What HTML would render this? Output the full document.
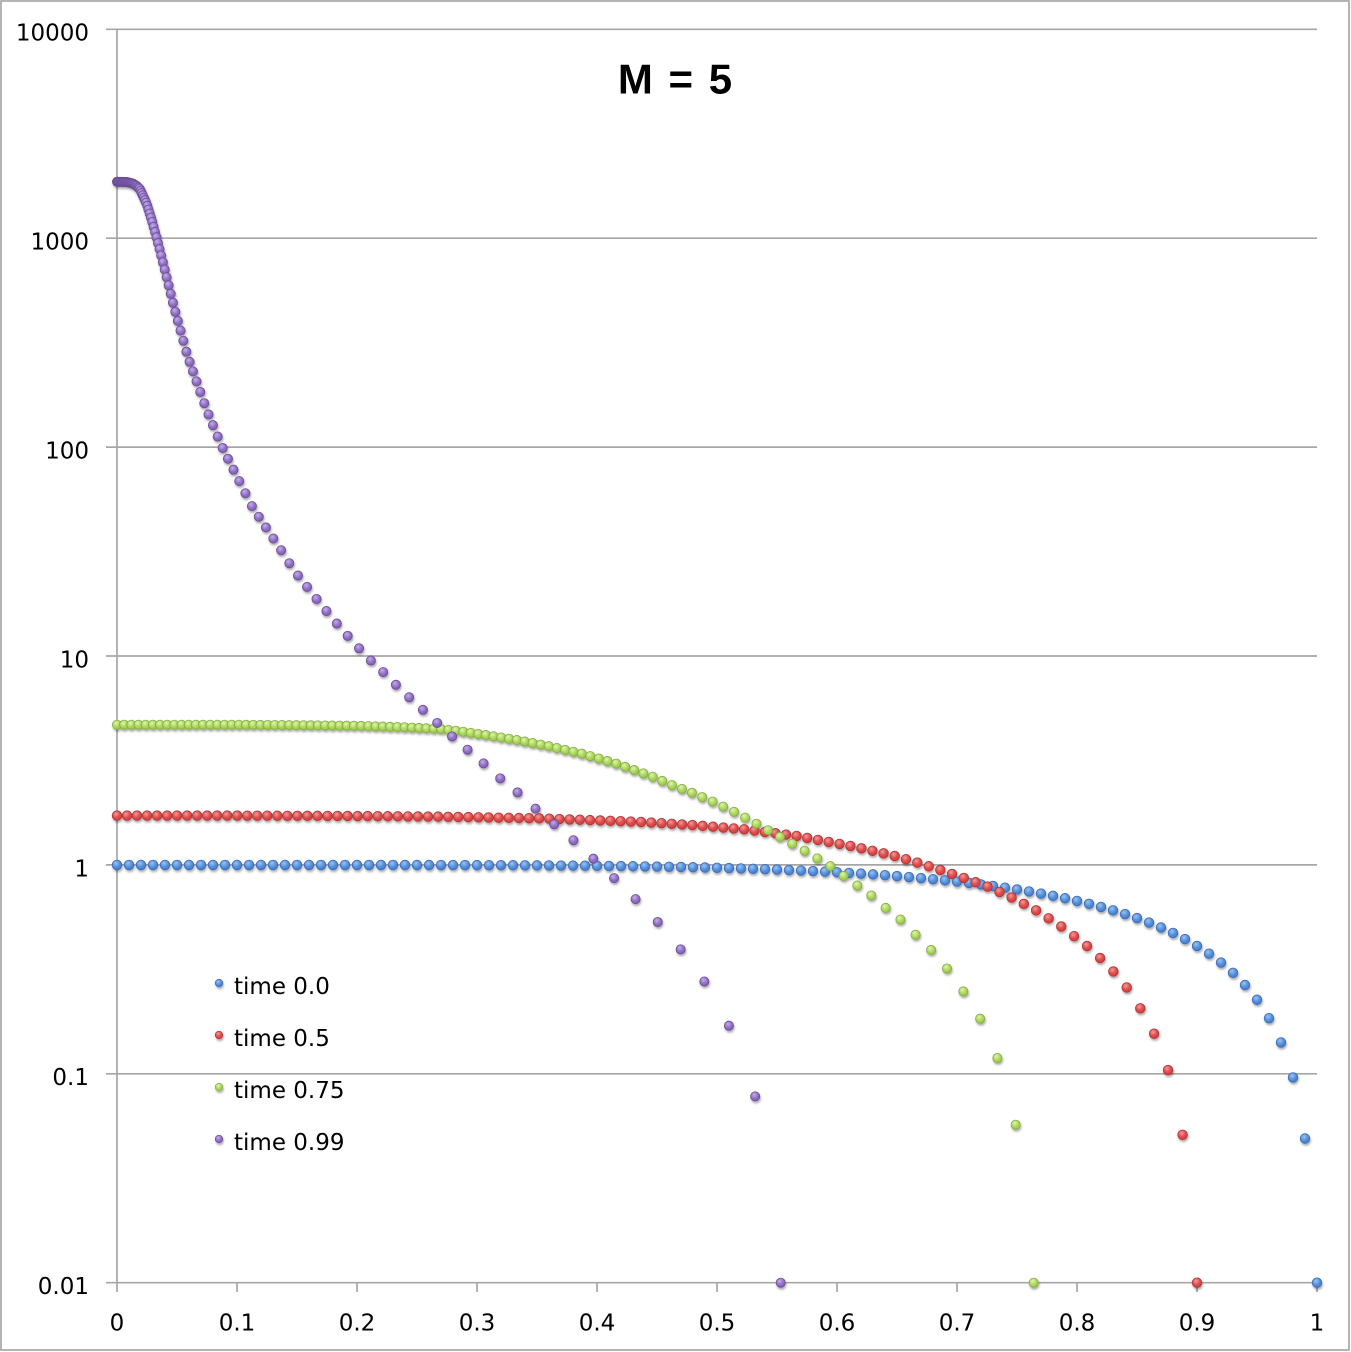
<!DOCTYPE html>
<html>
<head>
<meta charset="utf-8">
<style>
  html, body { margin: 0; padding: 0; background: #ffffff; }
  body { width: 1351px; height: 1352px; overflow: hidden; }
  svg { display: block; }
  .tl { font-family: "DejaVu Sans", "Liberation Sans", sans-serif; font-size: 23px; fill: #000; }
</style>
</head>
<body>
<svg id="chart" xmlns="http://www.w3.org/2000/svg" width="1351" height="1352" viewBox="0 0 1351 1352">
  <defs>
    <radialGradient id="gBlue" cx="0.4" cy="0.33" r="0.7">
      <stop offset="0" stop-color="#9cc3f2"/>
      <stop offset="0.55" stop-color="#5790dc"/>
      <stop offset="1" stop-color="#4078cc"/>
    </radialGradient>
    <radialGradient id="gRed" cx="0.4" cy="0.33" r="0.7">
      <stop offset="0" stop-color="#f49a9a"/>
      <stop offset="0.55" stop-color="#e04d4d"/>
      <stop offset="1" stop-color="#cc3b3b"/>
    </radialGradient>
    <radialGradient id="gGreen" cx="0.4" cy="0.33" r="0.7">
      <stop offset="0" stop-color="#def5b0"/>
      <stop offset="0.55" stop-color="#aed85f"/>
      <stop offset="1" stop-color="#96c44a"/>
    </radialGradient>
    <radialGradient id="gPurple" cx="0.4" cy="0.33" r="0.7">
      <stop offset="0" stop-color="#c5adea"/>
      <stop offset="0.55" stop-color="#9172c4"/>
      <stop offset="1" stop-color="#7c5cb2"/>
    </radialGradient>
    <filter id="sh" x="-20%" y="-20%" width="140%" height="140%">
      <feDropShadow dx="0.8" dy="2" stdDeviation="1.1" flood-color="#000" flood-opacity="0.33"/>
    </filter>
  </defs>

  <!-- outer border -->
  <rect x="1" y="1" width="1348" height="1349" fill="#ffffff" stroke="#a2a2a2" stroke-width="1.6"/>

  <!-- gridlines -->
  <g stroke="#a6a6a6" stroke-width="1.7" fill="none">
    <line x1="106" y1="29.3" x2="1317" y2="29.3"/>
    <line x1="106" y1="238.2" x2="1317" y2="238.2"/>
    <line x1="106" y1="447.1" x2="1317" y2="447.1"/>
    <line x1="106" y1="656" x2="1317" y2="656"/>
    <line x1="106" y1="864.9" x2="1317" y2="864.9"/>
    <line x1="106" y1="1073.8" x2="1317" y2="1073.8"/>
    <line x1="106" y1="1282.7" x2="1317" y2="1282.7"/>
    <line x1="117" y1="29.3" x2="117" y2="1292"/>
    <line x1="237" y1="1282.7" x2="237" y2="1292"/>
    <line x1="357" y1="1282.7" x2="357" y2="1292"/>
    <line x1="477" y1="1282.7" x2="477" y2="1292"/>
    <line x1="597" y1="1282.7" x2="597" y2="1292"/>
    <line x1="717" y1="1282.7" x2="717" y2="1292"/>
    <line x1="837" y1="1282.7" x2="837" y2="1292"/>
    <line x1="957" y1="1282.7" x2="957" y2="1292"/>
    <line x1="1077" y1="1282.7" x2="1077" y2="1292"/>
    <line x1="1197" y1="1282.7" x2="1197" y2="1292"/>
    <line x1="1317" y1="1282.7" x2="1317" y2="1292"/>
  </g>

  <!-- y tick labels -->
  <g class="tl" text-anchor="end">
    <text x="89" y="40.7">10000</text>
    <text x="89" y="249.6">1000</text>
    <text x="89" y="458.5">100</text>
    <text x="89" y="667.4">10</text>
    <text x="89" y="876.3">1</text>
    <text x="89" y="1085.2">0.1</text>
    <text x="89" y="1294.1">0.01</text>
  </g>

  <!-- x tick labels -->
  <g class="tl" text-anchor="middle">
    <text x="117" y="1330.7">0</text>
    <text x="237" y="1330.7">0.1</text>
    <text x="357" y="1330.7">0.2</text>
    <text x="477" y="1330.7">0.3</text>
    <text x="597" y="1330.7">0.4</text>
    <text x="717" y="1330.7">0.5</text>
    <text x="837" y="1330.7">0.6</text>
    <text x="957" y="1330.7">0.7</text>
    <text x="1077" y="1330.7">0.8</text>
    <text x="1197" y="1330.7">0.9</text>
    <text x="1317" y="1330.7">1</text>
  </g>

  <!-- title -->
  <text x="675" y="93.5" text-anchor="middle" style="font-family:'Liberation Sans','DejaVu Sans',sans-serif;font-weight:bold;font-size:42px;word-spacing:4px;fill:#000;">M = 5</text>

  <!-- series -->
  <g id="series" filter="url(#sh)"></g>

  <!-- legend -->
  <g filter="url(#sh)">
    <circle cx="219" cy="983" r="3.8" fill="url(#gBlue)" stroke="#3a6db5" stroke-width="0.7"/>
    <circle cx="219" cy="1035" r="3.8" fill="url(#gRed)" stroke="#b03434" stroke-width="0.7"/>
    <circle cx="219" cy="1087" r="3.8" fill="url(#gGreen)" stroke="#84ac3e" stroke-width="0.7"/>
    <circle cx="219" cy="1139" r="3.8" fill="url(#gPurple)" stroke="#6a4d98" stroke-width="0.7"/>
  </g>
  <g class="tl">
    <text x="234" y="994">time 0.0</text>
    <text x="234" y="1046">time 0.5</text>
    <text x="234" y="1098">time 0.75</text>
    <text x="234" y="1150">time 0.99</text>
  </g>
</svg>

<script>
(function(){
  var NS = "http://www.w3.org/2000/svg";
  var X0 = 117, XW = 1200, Y0 = 1282.7, DEC = 208.9;
  function px(x){ return X0 + x * XW; }
  function py(v){ if (!(v > 0.01)) return Y0; return Y0 - (Math.log(v)/Math.LN10 + 2) * DEC; }

  function makeU(tab, s){
    var last = tab[tab.length-1];
    var uL = Math.pow(10, last[1]);
    return function(x){
      if (x >= s) return 0;
      if (x >= last[0]) return uL * (s - x) / (s - last[0]);
      for (var k = 1; k < tab.length; k++){
        if (x <= tab[k][0]){
          var a = tab[k-1], b = tab[k];
          var t = (x - a[0]) / (b[0] - a[0]);
          return Math.pow(10, a[1] + t * (b[1] - a[1]));
        }
      }
      return uL;
    };
  }

  function mesh(u, s){
    var N = 40000;
    var C = new Float64Array(N + 1);
    var h = s / N;
    for (var k = 1; k <= N; k++){
      var xm = (k - 0.5) * h;
      C[k] = C[k-1] + u(xm) * xm * xm * h;
    }
    var tot = C[N];
    var pts = [];
    for (var i = 0; i <= 100; i++){
      var xi = i / 100;
      var f = (Math.pow(xi,3)/3 - Math.pow(xi,8)/8) / (5/24);
      if (i === 100) { pts.push([s, 0]); continue; }
      var target = f * tot;
      var lo = 0, hi = N;
      while (hi - lo > 1){
        var mid = (lo + hi) >> 1;
        if (C[mid] < target) lo = mid; else hi = mid;
      }
      var d = C[hi] - C[lo];
      var t = d > 0 ? (target - C[lo]) / d : 0;
      var x = (lo + t) * h;
      pts.push([x, u(x)]);
    }
    return pts;
  }

  var purpleTab = [[0,3.270],[0.008,3.269],[0.013,3.262],[0.016,3.252],[0.019,3.236],[0.0247,3.165],[0.029,3.086],[0.0331,3.0],[0.0372,2.909],[0.0475,2.671],[0.0589,2.434],[0.0747,2.178],[0.0864,2.016],[0.0908,1.963],[0.113,1.711],[0.1358,1.515],[0.1422,1.456],[0.1489,1.399],[0.157,1.341],[0.1647,1.284],[0.173,1.226],[0.1814,1.167],[0.1906,1.107],[0.1997,1.049],[0.2094,0.990],[0.2206,0.930],[0.2306,0.872],[0.2422,0.809],[0.2539,0.748],[0.2656,0.686],[0.278,0.621],[0.2914,0.555],[0.3047,0.490],[0.319,0.416],[0.333,0.351],[0.348,0.273],[0.364,0.196],[0.380,0.120],[0.396,0.035],[0.414,-0.062],[0.432,-0.163],[0.4506,-0.273],[0.4694,-0.402],[0.4897,-0.560],[0.5097,-0.766],[0.5314,-1.10]];
  var greenTab = [[0,0.671],[0.1,0.671],[0.15,0.669],[0.2,0.666],[0.24,0.659],[0.269,0.651],[0.2817,0.643],[0.307,0.622],[0.333,0.598],[0.3594,0.569],[0.387,0.533],[0.416,0.485],[0.446,0.423],[0.462,0.383],[0.479,0.346],[0.4964,0.303],[0.514,0.255],[0.532,0.200],[0.5525,0.134],[0.573,0.068],[0.584,0.030],[0.595,-0.008],[0.6056,-0.053],[0.617,-0.099],[0.629,-0.148],[0.6406,-0.206],[0.653,-0.262],[0.6656,-0.335],[0.679,-0.410],[0.692,-0.498],[0.7056,-0.608],[0.7197,-0.740],[0.7339,-0.928],[0.7489,-1.244]];
  var redTab = [[0,0.236],[0.1,0.236],[0.2,0.234],[0.269,0.231],[0.351,0.223],[0.436,0.206],[0.479,0.191],[0.522,0.171],[0.566,0.139],[0.593,0.110],[0.611,0.091],[0.63,0.067],[0.648,0.043],[0.667,0.011],[0.686,-0.024],[0.705,-0.061],[0.7256,-0.104],[0.7456,-0.156],[0.7664,-0.219],[0.787,-0.295],[0.809,-0.391],[0.8197,-0.448],[0.8306,-0.512],[0.8422,-0.592],[0.853,-0.689],[0.8647,-0.813],[0.8764,-0.990],[0.888,-1.292]];

  var blue = [];
  for (var i = 0; i <= 100; i++){ var x = i/100; blue.push([x, 1 - Math.pow(x,5)]); }
  var red = mesh(makeU(redTab, 0.9), 0.9);
  var green = mesh(makeU(greenTab, 0.7639), 0.7639);
  var purple = mesh(makeU(purpleTab, 0.5531), 0.5531);

  var g = document.getElementById("series");
  function draw(pts, fill, stroke, r){
    var grp = document.createElementNS(NS, "g");
    for (var k = 0; k < pts.length; k++){
      var c = document.createElementNS(NS, "circle");
      c.setAttribute("cx", px(pts[k][0]).toFixed(2));
      c.setAttribute("cy", py(pts[k][1]).toFixed(2));
      c.setAttribute("r", r);
      c.setAttribute("fill", fill);
      c.setAttribute("stroke", stroke);
      c.setAttribute("stroke-width", "0.8");
      grp.appendChild(c);
    }
    g.appendChild(grp);
  }
  draw(blue, "url(#gBlue)", "#3a6db5", 4.8);
  draw(red, "url(#gRed)", "#b03434", 4.8);
  draw(green, "url(#gGreen)", "#84ac3e", 4.6);
  draw(purple, "url(#gPurple)", "#6a4d98", 4.6);
})();
</script>
</body>
</html>
